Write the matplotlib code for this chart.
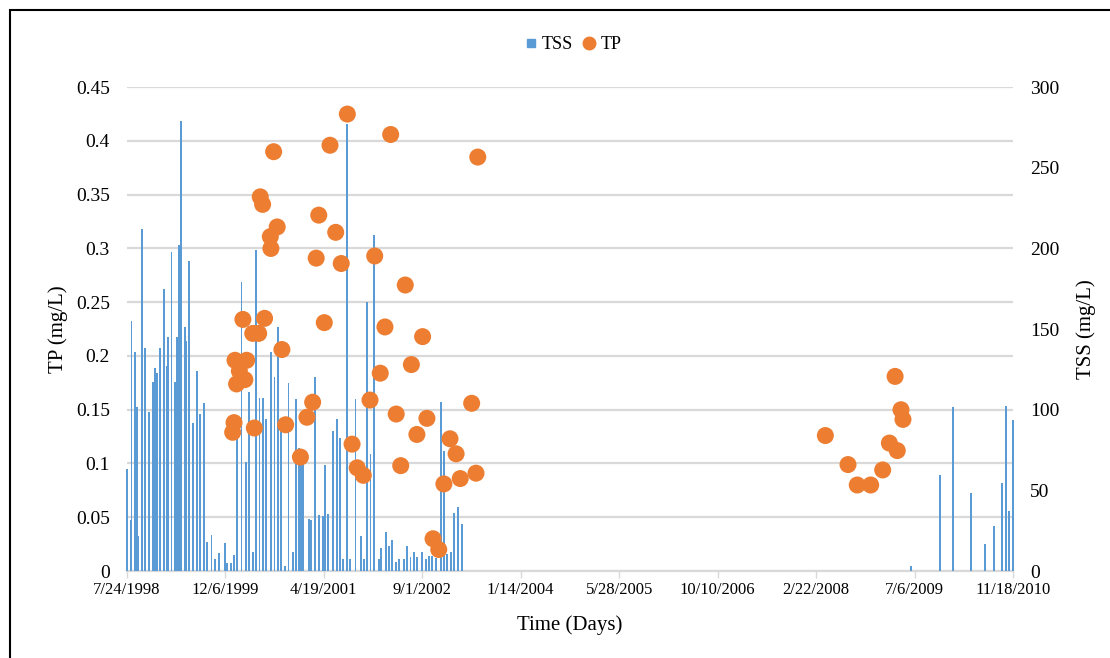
import matplotlib
matplotlib.use("Agg")
import matplotlib.pyplot as plt
from matplotlib.lines import Line2D
from matplotlib.patches import Rectangle
import pandas as pd

plt.rcParams['font.family'] = ['Liberation Serif', 'DejaVu Serif']

start = pd.Timestamp("1998-07-24")

# TSS samples: days after 7/24/1998, value in mg/L
tss_days = [0, 20, 25, 42, 54, 59, 78, 94, 113, 135,
            142, 154, 171, 188, 205, 211, 228, 247, 257, 264,
            277, 297, 302, 315, 338, 357, 374, 391, 409, 431,
            448, 467, 500, 511, 529, 546, 562, 583, 604, 622,
            640, 657, 674, 691, 709, 732, 750, 769, 782, 802,
            821, 843, 861, 876, 885, 896, 925, 935, 954, 975,
            995, 1008, 1023, 1046, 1066, 1083, 1099, 1117, 1135, 1162,
            1188, 1204, 1221, 1238, 1255, 1279, 1289, 1315, 1331, 1348,
            1367, 1384, 1407, 1424, 1441, 1458, 1475, 1499, 1518, 1534,
            1551, 1570, 1594, 1610, 1627, 1646, 1663, 1680, 1702, 3979,
            4129, 4192, 4285, 4356, 4402, 4443, 4461, 4477, 4500]
tss_vals = [63, 31.5, 155, 136, 101.6, 22, 212, 138, 98.6, 117,
            126, 123, 138, 175, 127, 145, 198, 117, 145, 202,
            279, 151, 142.6, 192, 92, 124, 97.5, 104, 18, 22.4,
            7.4, 11, 17.3, 5, 5, 10, 84, 179, 67.5, 111,
            11.6, 199, 107, 107, 94, 136, 120.6, 151, 89, 3.3,
            116.5, 11.6, 106.6, 76, 75, 71, 32, 31.7, 120.6, 35,
            34, 66, 35.6, 86.6, 94, 82.5, 7.4, 277, 7.4, 106.6,
            21.8, 7.4, 166.5, 72.8, 208.4, 7.4, 14, 24.3, 15.2, 19.3,
            5.3, 7.4, 7.4, 15.2, 8.8, 11.5, 8.8, 11.5, 7.4, 9.5,
            9.5, 8, 104.5, 74.3, 10.5, 11.5, 35.8, 39.7, 29.4, 3.1,
            59.7, 101.4, 48.4, 16.5, 27.8, 54.5, 102.3, 37, 93.6]

# TP samples
tp_days = [538, 545, 550, 558, 572, 590, 600, 609, 640, 648,
           670, 678, 690, 700, 729, 732, 746, 764, 788, 807,
           882, 915, 944, 962, 975, 1003, 1032, 1061, 1089, 1120,
           1144, 1170, 1201, 1235, 1259, 1287, 1311, 1340, 1368, 1391,
           1414, 1445, 1473, 1502, 1524, 1555, 1584, 1610, 1641, 1672,
           1693, 1751, 1773, 1782,
           3546, 3661, 3708, 3776, 3837, 3871, 3911, 3900, 3930, 3940]
tp_vals = [0.129, 0.138, 0.196, 0.174, 0.186, 0.234, 0.178, 0.196, 0.221, 0.133,
           0.221, 0.348, 0.341, 0.235, 0.311, 0.300, 0.390, 0.320, 0.206, 0.136,
           0.106, 0.143, 0.157, 0.291, 0.331, 0.231, 0.396, 0.315, 0.286, 0.425,
           0.118, 0.096, 0.089, 0.159, 0.293, 0.184, 0.227, 0.406, 0.146, 0.098,
           0.266, 0.192, 0.127, 0.218, 0.142, 0.030, 0.020, 0.081, 0.123, 0.109,
           0.086, 0.156, 0.091, 0.385,
           0.126, 0.099, 0.080, 0.080, 0.094, 0.119, 0.112, 0.181, 0.150, 0.141]

tick_labels = ["7/24/1998", "12/6/1999", "4/19/2001", "9/1/2002", "1/14/2004",
               "5/28/2005", "10/10/2006", "2/22/2008", "7/6/2009", "11/18/2010"]

tss_x = start + pd.to_timedelta(tss_days, unit="D")
tp_x = start + pd.to_timedelta(tp_days, unit="D")
tick_x = pd.to_datetime(tick_labels, format="%m/%d/%Y")

blue = "#5B9BD5"
orange = "#ED7D31"
grid_c = "#D9D9D9"

fig = plt.figure(figsize=(11.1, 6.58), dpi=100)
ax = fig.add_axes([0.1141, 0.1322, 0.7988, 0.7353])
ax2 = ax.twinx()
ax3 = ax.twinx()

# left axis: TP scale + gridlines
ax.set_ylim(0, 0.45)
ax.set_yticks([i * 0.05 for i in range(10)])
ax.set_yticklabels(["0", "0.05", "0.1", "0.15", "0.2", "0.25", "0.3", "0.35", "0.4", "0.45"])
ax.grid(axis="y", color=grid_c, linewidth=1.6)
ax.set_ylabel("TP (mg/L)", fontsize=15, labelpad=6)

# right axis: TSS bars
bars = ax2.bar(tss_x, tss_vals, width=9, color=blue, linewidth=0)
for b in bars:
    b.set_clip_on(False)
ax2.set_ylim(0, 300)
ax2.set_yticks(range(0, 301, 50))
ax2.set_ylabel("TSS (mg/L)", fontsize=15, rotation=90, labelpad=12)

# TP scatter on top
ax3.scatter(tp_x, tp_vals, s=150, color=orange, edgecolors="none", zorder=3)
ax3.set_ylim(0, 0.45)
ax3.axis("off")

for a in (ax, ax2, ax3):
    a.set_xlim(tick_x[0], tick_x[-1])
    for s in ("top", "left", "right", "bottom"):
        a.spines[s].set_visible(False)

ax.spines["bottom"].set_visible(True)
ax.spines["bottom"].set_color(grid_c)
ax.spines["bottom"].set_linewidth(1.6)
ax.set_xticks(tick_x)
ax.set_xticklabels(tick_labels)
ax.tick_params(axis="x", length=5, width=1, color=grid_c, labelsize=12, pad=3)
ax.tick_params(axis="y", length=0, labelsize=14, pad=12)
ax2.tick_params(axis="y", length=0, labelsize=14, pad=12)
ax2.tick_params(axis="x", bottom=False, labelbottom=False)
ax.set_xlabel("Time (Days)", fontsize=15, labelpad=12)

handles = [Line2D([], [], marker="s", linestyle="none", color=blue, markersize=6),
           Line2D([], [], marker="o", linestyle="none", color=orange, markersize=9)]
fig.legend(handles, ["TSS", "TP"], loc="center", bbox_to_anchor=(0.515, 0.932),
           ncol=2, frameon=False, fontsize=13, handletextpad=0.1, columnspacing=0.4,
           handlelength=1)

# outer frame
fig.patches.append(Rectangle((10 / 1110, -0.02), 1.0, 1 - 10 / 658 + 0.02,
                             transform=fig.transFigure, fill=False,
                             edgecolor="black", linewidth=1.5))

fig.savefig("out.png", dpi=100)
